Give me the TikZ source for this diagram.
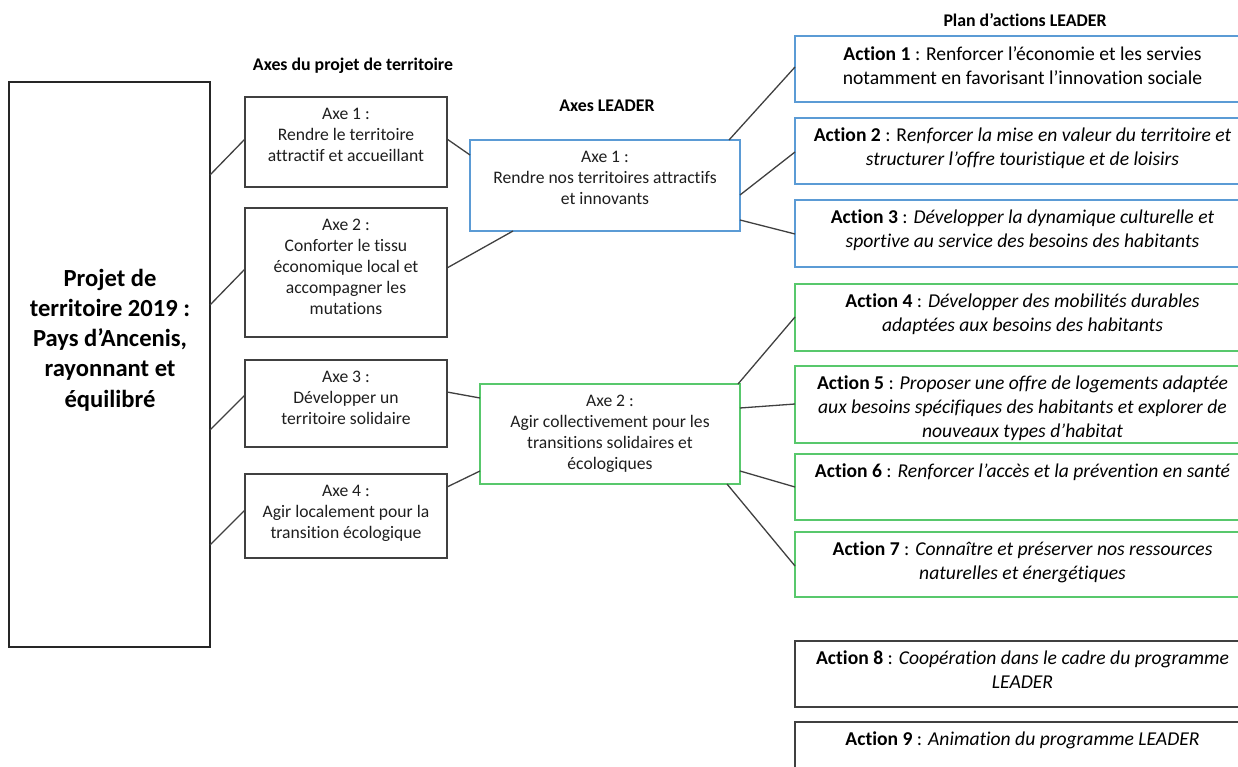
\documentclass[tikz,border=0pt]{standalone}
\usepackage{fontspec}
\setmainfont[Ligatures=NoCommon]{Carlito}
\definecolor{boxblue}{RGB}{91,155,213}
\definecolor{boxgreen}{RGB}{88,200,108}
\definecolor{linegray}{RGB}{64,64,64}
\definecolor{textgray}{RGB}{30,30,30}
\begin{document}
\begin{tikzpicture}[x=1pt,y=-1pt,
  box/.style={draw=linegray, line width=1.4pt, inner sep=0pt, outer sep=0pt},
  bigbox/.style={draw=black!85, line width=2.2pt, inner sep=0pt, outer sep=0pt, minimum width=201pt, minimum height=565pt},
  axbox/.style={box, minimum width=202pt},
  bluebox/.style={box, draw=boxblue},
  greenbox/.style={box, draw=boxgreen},
  actbox/.style={box, minimum width=455pt},
  axtext/.style={anchor=north, inner sep=0pt, align=center, text=textgray, font=\fontsize{17.6}{21}\selectfont},
  acttext/.style={anchor=north, inner sep=0pt, align=center, text=black, font=\fontsize{19.6}{24}\selectfont},
  head/.style={inner sep=0pt, font=\bfseries\fontsize{17.8}{20}\selectfont},
  conn/.style={draw=linegray, line width=1.3pt}
]
\useasboundingbox (0,0) rectangle (1238,767);
\clip (0,0) rectangle (1238,767);

% headers
\node[head] (h1) at (353,66) {Axes du projet de territoire};
\node[head] (h2) at (607,106) {Axes LEADER};
\node[head] (h3) at (1025,20) {Plan d’actions LEADER};

% big box
\node[bigbox] (big) at (109.5,364.5) {};
\node[inner sep=0pt, align=center, font=\bfseries\fontsize{24.6}{30.3}\selectfont] (bigt) at (110,340)
  {Projet de\\territoire 2019 :\\Pays d’Ancenis,\\rayonnant et\\équilibré};

% axes du projet
\node[axbox, minimum height=90pt] (ax1) at (346,142) {};
\node[axtext] (ax1t) at ([yshift=-11pt]ax1.north) {Axe 1 :\\Rendre le territoire\\attractif et accueillant};
\node[axbox, minimum height=129pt] (ax2) at (346,272.5) {};
\node[axtext] (ax2t) at ([yshift=-11pt]ax2.north) {Axe 2 :\\Conforter le tissu\\économique local et\\accompagner les\\mutations};
\node[axbox, minimum height=87pt] (ax3) at (346,403.5) {};
\node[axtext] (ax3t) at ([yshift=-11pt]ax3.north) {Axe 3 :\\Développer un\\territoire solidaire};
\node[axbox, minimum height=84pt] (ax4) at (346,516) {};
\node[axtext] (ax4t) at ([yshift=-11pt]ax4.north) {Axe 4 :\\Agir localement pour la\\transition écologique};

% axes LEADER
\node[bluebox, minimum width=270pt, minimum height=91pt] (l1) at (605,185.5) {};
\node[axtext] (l1t) at ([yshift=-11pt]l1.north) {Axe 1 :\\Rendre nos territoires attractifs\\et innovants};
\node[greenbox, minimum width=260pt, minimum height=100pt] (l2) at (610,434) {};
\node[axtext] (l2t) at ([yshift=-11pt]l2.north) {Axe 2 :\\Agir collectivement pour les\\transitions solidaires et\\écologiques};

% actions
\node[actbox, bluebox, minimum height=66pt] (a1) at (1022.5,69) {};
\node[acttext] (a1t) at ([yshift=-10pt]a1.north) {\textbf{Action 1} : Renforcer l’économie et les servies\\notamment en favorisant l’innovation sociale};
\node[actbox, bluebox, minimum height=66pt] (a2) at (1022.5,151) {};
\node[acttext] (a2t) at ([yshift=-10pt]a2.north) {\textbf{Action 2} : R\textit{enforcer la mise en valeur du territoire et}\\\textit{structurer l’offre touristique et de loisirs}};
\node[actbox, bluebox, minimum height=67pt] (a3) at (1022.5,233.5) {};
\node[acttext] (a3t) at ([yshift=-10pt]a3.north) {\textbf{Action 3} : \textit{Développer la dynamique culturelle et}\\\textit{sportive au service des besoins des habitants}};
\node[actbox, greenbox, minimum height=67pt] (a4) at (1022.5,317.5) {};
\node[acttext] (a4t) at ([yshift=-10pt]a4.north) {\textbf{Action 4} : \textit{Développer des mobilités durables}\\\textit{adaptées aux besoins des habitants}};
\node[actbox, greenbox, minimum height=77pt] (a5) at (1022.5,404.5) {};
\node[acttext] (a5t) at ([yshift=-10pt]a5.north) {\textbf{Action 5} : \textit{Proposer une offre de logements adaptée}\\\textit{aux besoins spécifiques des habitants et explorer de}\\\textit{nouveaux types d’habitat}};
\node[actbox, greenbox, minimum height=66pt] (a6) at (1022.5,487) {};
\node[acttext] (a6t) at ([yshift=-10pt]a6.north) {\textbf{Action 6} : \textit{Renforcer l’accès et la prévention en santé}};
\node[actbox, greenbox, minimum height=65pt] (a7) at (1022.5,564.5) {};
\node[acttext] (a7t) at ([yshift=-10pt]a7.north) {\textbf{Action 7} : \textit{Connaître et préserver nos ressources}\\\textit{naturelles et énergétiques}};
\node[actbox, minimum height=66pt] (a8) at (1022.5,674) {};
\node[acttext] (a8t) at ([yshift=-10pt]a8.north) {\textbf{Action 8} : \textit{Coopération dans le cadre du programme}\\\textit{LEADER}};
\node[actbox, minimum height=68pt] (a9) at (1022.5,756) {};
\node[acttext] (a9t) at ([yshift=-10pt]a9.north) {\textbf{Action 9} : \textit{Animation du programme LEADER}};

% connectors
\draw[conn] (big.east |- 0,175) -- (ax1.west |- 0,139);
\draw[conn] (big.east |- 0,305) -- (ax2.west |- 0,269);
\draw[conn] (big.east |- 0,430) -- (ax3.west |- 0,395);
\draw[conn] (big.east |- 0,545) -- (ax4.west |- 0,510);
\draw[conn] (ax1.east |- 0,139) -- (l1.west |- 0,155);
\draw[conn] (ax2.east |- 0,268) -- (l1.south -| 513,0);
\draw[conn] (ax3.east |- 0,392) -- (l2.west |- 0,398);
\draw[conn] (ax4.east |- 0,487) -- (l2.west |- 0,471);
\draw[conn] (l1.north -| 729,0) -- (a1.west |- 0,67);
\draw[conn] (l1.east |- 0,195) -- (a2.west |- 0,152);
\draw[conn] (l1.east |- 0,220) -- (a3.west |- 0,234);
\draw[conn] (l2.north -| 738,0) -- (a4.west |- 0,317);
\draw[conn] (l2.east |- 0,408) -- (a5.west |- 0,404);
\draw[conn] (l2.east |- 0,471) -- (a6.west |- 0,487);
\draw[conn] (l2.south -| 727,0) -- (a7.west |- 0,566);
\end{tikzpicture}
\end{document}
